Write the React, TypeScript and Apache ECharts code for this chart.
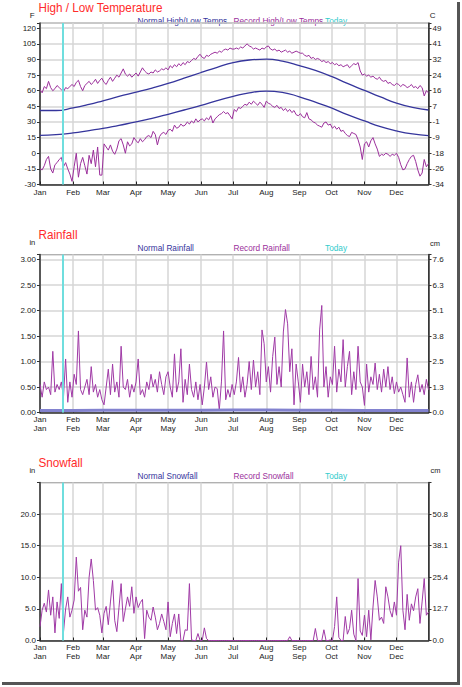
import { useEffect, useRef } from 'react';
import * as echarts from 'echarts';

// Calendar
const monthNames = ['Jan', 'Feb', 'Mar', 'Apr', 'May', 'Jun', 'Jul', 'Aug', 'Sep', 'Oct', 'Nov', 'Dec'];
const monthLengths = [31, 28, 31, 30, 31, 30, 31, 31, 30, 31, 30, 31];
const todayIndex = 21;

// Tick labels
const tempTicksF = ['-30', '-15', '0', '15', '30', '45', '60', '75', '90', '105', '120'];
const tempTicksC = ['-34', '-26', '-18', '-9', '-1', '7', '16', '24', '32', '41', '49'];
const rainTicksIn = ['0.00', '0.50', '1.00', '1.50', '2.00', '2.50', '3.00'];
const rainTicksCm = ['0.0', '1.3', '2.5', '3.8', '5.1', '6.3', '7.6'];
const snowTicksIn = ['0.0', '5.0', '10.0', '15.0', '20.0'];
const snowTicksCm = ['0.0', '12.7', '25.4', '38.1', '50.8'];

// Normal temperatures (°F) on selected days of the year
const normalDays = [0, 15, 31, 46, 59, 74, 90, 105, 120, 135, 151, 166, 181, 196, 212, 227, 243, 258, 273, 288, 304, 319, 334, 349, 364];
const normalHigh = [41, 41, 43.5, 46.8, 50.3, 54.5, 58.6, 62.6, 67, 72, 77.5, 82.5, 87, 89.5, 90.3, 88.5, 84.2, 79.5, 73.7, 67, 60.3, 54, 48.1, 44, 41.5];
const normalLow = [17.2, 17.8, 19.5, 21.8, 23.8, 26.8, 30, 33.5, 37.4, 41.5, 46, 50.5, 54.5, 58, 59.7, 58.5, 54.2, 49, 43.5, 37, 31, 25.5, 21.4, 18.5, 17];

// Records are listed every RECORD_STEP days starting Jan 1
const RECORD_STEP = 2;
const recordHigh = [
  61, 58, 64, 62, 69, 63, 60, 62, 65, 63, 61,
  59, 63, 62, 64, 66, 64, 68, 70, 64, 60,
  65, 67, 69, 66, 68, 71, 67, 70, 72, 68,
  66, 70, 73, 69, 72, 75, 73, 77, 81, 76,
  74, 76, 73, 75, 77, 74, 78, 82, 79, 77,
  76, 78, 77, 80, 78, 79, 81, 80, 82, 80,
  84, 82, 85, 83, 86, 84, 87, 85, 88, 87,
  89, 91, 90, 93, 95, 92, 91, 94, 93, 95,
  96, 97, 96, 98, 97, 99, 100, 99, 101, 100,
  100, 101, 100, 102, 101, 103, 105, 103, 102, 100,
  101, 100, 99, 101, 100, 102, 103, 100, 99, 100,
  98, 99, 97, 98, 99, 97, 98, 96, 97, 98,
  97, 96, 96, 94, 93, 94, 91, 92, 90, 91,
  90, 88, 89, 87, 88, 86, 87, 85, 86, 84,
  85, 83, 84, 85, 82, 84, 86, 85, 87, 79,
  75, 76, 74, 75, 73, 74, 72, 71, 73, 70,
  69, 70, 67, 68, 66, 65, 67, 66, 64, 66,
  65, 63, 64, 66, 63, 64, 62, 65, 63, 55,
  60, 58,
];
const recordLow = [
  -15, -16, -12, -6, -3, -15, -19, -11, -9, -6, -4,
  -13, -9, -15, -20, -27, -13, 0, -23, -10, -4,
  -12, -20, -2, -10, 3, -13, 6, -21, -21, 9,
  6, 3, 8, 2, -1, 4, 12, 14, 8, 0,
  11, 7, 9, 15, 12, 10, 14, 11, 13, 16,
  17, 15, 21, 18, 8, 16, 19, 20, 18, 22,
  23, 21, 27, 24, 25, 28, 26, 27, 30, 28,
  31, 29, 33, 30, 32, 33, 31, 34, 32, 36,
  29, 33, 35, 37, 38, 40, 38, 39, 36, 33,
  42, 40, 44, 43, 45, 47, 46, 49, 47, 50,
  48, 46, 49, 47, 44, 50, 48, 47, 45, 44,
  46, 43, 44, 41, 43, 40, 42, 39, 41, 37,
  36, 38, 35, 34, 39, 33, 32, 30, 29, 27,
  26, 25, 29, 30, 27, 28, 24, 26, 23, 25,
  21, 22, 19, 17, 16, 20, 19, 18, 13, 6,
  -6, 9, 11, 6, 12, 15, 9, 4, -3, -1,
  -2, 0, -1, -3, -1, -2, 0, -4, -11, -16,
  -15, -10, -6, -3, -2, -8, -16, -22, -19, -6,
  -13, -10,
];

// Rainfall (in)
const normalRainDays = [0, 31, 59, 90, 120, 151, 181, 212, 243, 273, 304, 334, 364];
const normalRain = [0.04, 0.04, 0.045, 0.045, 0.045, 0.045, 0.05, 0.05, 0.045, 0.045, 0.04, 0.04, 0.04];
const recordRain = [
  0.55, 0.3, 0.6, 0.45, 0.5, 0.35, 1.2, 0.4, 0.55, 0.45, 0.6,
  0.3, 1.05, 0.2, 0.6, 0.3, 0.75, 0.55, 1.6, 0.45, 0.35,
  0.5, 0.65, 0.35, 0.9, 0.4, 0.55, 0.3, 0.45, 0.25, 0.15,
  0.5, 0.85, 0.35, 0.95, 0.4, 0.6, 0.3, 1.3, 0.5, 0.45,
  0.65, 0.3, 0.55, 0.4, 0.6, 1.05, 0.35, 0.45, 0.3, 0.6,
  0.45, 0.75, 0.5, 0.65, 0.4, 0.8, 0.55, 0.35, 0.7, 0.8,
  0.5, 0.3, 1.15, 0.4, 0.6, 1.25, 0.2, 0.65, 0.35, 0.95,
  0.45, 0.3, 0.6, 0.25, 0.55, 0.15, 0.5, 0.99, 0.45, 0.7,
  0.3, 0.5, 0.47, 0.05, 0.6, 1.6, 0.25, 0.45, 0.3, 0.55,
  0.35, 0.6, 1.08, 0.4, 0.7, 0.3, 0.55, 1.0, 0.45, 1.03,
  0.5, 0.8, 0.35, 1.62, 1.35, 0.6, 0.9, 0.4, 1.1, 1.48,
  0.55, 0.9, 0.5, 1.58, 2.02, 1.74, 0.8, 1.25, 0.15, 0.95,
  0.6, 0.2, 0.95, 0.5, 0.8, 0.35, 1.1, 0.45, 0.7, 0.3,
  1.62, 2.1, 0.5, 0.9, 0.3, 0.7, 0.55, 1.3, 0.4, 0.85,
  0.6, 1.43, 0.5, 0.9, 1.2, 0.35, 0.8, 0.45, 1.3, 0.6,
  0.5, 0.14, 0.95, 0.4, 0.7, 0.55, 0.97, 0.45, 0.75, 0.4,
  0.85, 0.5, 0.9, 0.45, 0.7, 0.37, 0.6, 0.4, 0.5, 0.35,
  0.2, 1.07, 0.3, 0.6, 0.2, 0.55, 0.74, 0.4, 0.55, 0.35,
  0.65, 0.45,
];

// Snowfall (in)
const recordSnow = [
  2.2, 4.8, 5.9, 4.5, 8.0, 4.0, 6.9, 1.2, 6.1, 3.5, 9.0,
  1.3, 5.0, 6.9, 3.7, 4.8, 6.4, 13.2, 7.8, 8.4, 1.7,
  4.8, 3.7, 10.0, 12.9, 9.5, 4.8, 5.2, 4.0, 1.2, 4.3,
  5.4, 2.5, 6.1, 9.5, 3.2, 1.4, 5.2, 9.0, 3.0, 5.0,
  6.9, 5.4, 8.5, 4.3, 6.9, 5.2, 6.0, 6.5, 0.3, 4.8,
  3.7, 3.2, 5.3, 3.7, 1.7, 2.7, 4.2, 3.0, 1.7, 6.1,
  0.6, 2.7, 4.2, 1.1, 4.2, 0, 0, 1.7, 1.6, 9.0,
  0.1, 0, 0, 1.1, 0, 0, 2.0, 0.3, 0, 0,
  0, 0, 0, 0, 0, 0, 0, 0, 0, 0,
  0, 0, 0, 0, 0, 0, 0, 0, 0, 0,
  0, 0, 0, 0, 0, 0, 0, 0, 0, 0,
  0, 0, 0, 0, 0, 0, 0.6, 0, 0, 0,
  0, 0, 0, 0, 0, 0, 0, 0, 1.9, 0,
  0, 0, 1.7, 0, 0, 0.1, 0, 2.2, 6.9, 0.5,
  0, 0, 3.8, 1.0, 1.9, 4.8, 1.0, 0, 9.8, 1.5,
  0.8, 4.0, 0.6, 4.8, 0.1, 5.3, 9.5, 6.9, 3.2, 3.7,
  2.7, 8.5, 6.9, 4.7, 3.7, 6.1, 4.0, 12.4, 15.0, 4.8,
  1.7, 7.3, 3.2, 5.8, 4.7, 6.9, 8.2, 2.7, 6.1, 9.8,
  4.0, 4.5,
];

const FONT = "'Liberation Sans', Arial, Helvetica, sans-serif";
const NORMAL_COLOR = '#35359c';
const RECORD_COLOR = '#9b2f9b';
const TODAY_COLOR = '#33cccc';
const TITLE_COLOR = '#ff2b2b';
const GRID_LINE = '#d6d6d6';
const AXIS_DARK = '#333';

const dayNames: string[] = [];
const monthStarts = new Set<number>();
monthNames.forEach((m, i) => {
  monthStarts.add(dayNames.length);
  for (let d = 1; d <= monthLengths[i]; d++) dayNames.push(`${m} ${d}`);
});

function tickLabel(list: string[], min: number, step: number) {
  return (v: number) => {
    const k = Math.round((v - min) / step);
    if (Math.abs(min + k * step - v) > 1e-6 || k < 0 || k >= list.length) return '';
    return list[k];
  };
}

const recordPoints = (vals: number[]) => vals.map((v, i) => [i * RECORD_STEP, v]);
const pairPoints = (days: number[], vals: number[]) => days.map((d, i) => [d, vals[i]]);

const isMonthStart = (index: number) => monthStarts.has(index);

function buildOption() {
  const panels = [
    { top: 23, height: 161.5, min: -30, max: 125, step: 15, left: tempTicksF, right: tempTicksC, doubled: false, labelMargin: 4 },
    { top: 254.5, height: 158, min: 0, max: 3.1, step: 0.5, left: rainTicksIn, right: rainTicksCm, doubled: true, labelMargin: 3 },
    { top: 482.5, height: 158, min: 0, max: 25, step: 5, left: snowTicksIn, right: snowTicksCm, doubled: true, labelMargin: 3 },
  ];

  const grid = panels.map((p) => ({
    left: 40,
    width: 388.5,
    top: p.top,
    height: p.height,
    show: true,
    borderColor: '#444',
    borderWidth: 1,
    backgroundColor: '#fff',
    containLabel: false,
  }));

  const xAxis = panels.map((p, i) => ({
    type: 'category',
    gridIndex: i,
    data: dayNames,
    boundaryGap: false,
    axisLine: { show: true, onZero: false, lineStyle: { color: AXIS_DARK, width: 1.5 } },
    axisTick: { show: true, inside: true, length: 3, interval: isMonthStart, lineStyle: { color: '#222', width: 1 } },
    axisLabel: {
      interval: isMonthStart,
      fontSize: 8,
      fontFamily: FONT,
      color: '#222',
      margin: p.labelMargin,
      lineHeight: 8.5,
      formatter: (value: string) => {
        const m = value.split(' ')[0];
        return p.doubled ? `${m}\n${m}` : m;
      },
    },
    splitLine: { show: true, interval: isMonthStart, lineStyle: { color: GRID_LINE, width: 1.5 } },
  }));

  const yAxis: any[] = [];
  panels.forEach((p, i) => {
    const common = {
      type: 'value',
      gridIndex: i,
      min: p.min,
      max: p.max,
      interval: p.step,
      axisLine: { show: true, onZero: false, lineStyle: { color: AXIS_DARK, width: 1.5 } },
      axisTick: { show: true, inside: false, length: 3, lineStyle: { color: AXIS_DARK } },
    };
    yAxis.push({
      ...common,
      position: 'left',
      axisLabel: { fontSize: 8, fontFamily: FONT, color: '#222', margin: 4, formatter: tickLabel(p.left, p.min, p.step) },
      splitLine: { show: true, lineStyle: { color: GRID_LINE, width: 1.5 } },
    });
    yAxis.push({
      ...common,
      position: 'right',
      axisLabel: { fontSize: 8, fontFamily: FONT, color: '#222', margin: 4, formatter: tickLabel(p.right, p.min, p.step) },
      splitLine: { show: false },
    });
  });

  const todayMark = {
    silent: true,
    symbol: ['none', 'none'],
    label: { show: false },
    lineStyle: { color: '#6fdede', width: 2, type: 'solid' },
    emphasis: { disabled: true },
    data: [{ xAxis: todayIndex }],
  };

  const line = (xi: number, yi: number, data: number[][], color: string, width: number, smooth: boolean, extra: any = {}) => ({
    type: 'line',
    xAxisIndex: xi,
    yAxisIndex: yi,
    data,
    smooth,
    showSymbol: false,
    symbol: 'none',
    lineStyle: { color, width },
    itemStyle: { color },
    emphasis: { disabled: true },
    ...extra,
  });

  const series = [
    line(0, 0, pairPoints(normalDays, normalHigh), NORMAL_COLOR, 1.3, true),
    line(0, 0, pairPoints(normalDays, normalLow), NORMAL_COLOR, 1.3, true),
    line(0, 0, recordPoints(recordHigh), RECORD_COLOR, 1, false),
    line(0, 0, recordPoints(recordLow), RECORD_COLOR, 1, false, { markLine: todayMark }),
    line(1, 2, recordPoints(recordRain), '#a03aa6', 1, false, { markLine: todayMark }),
    line(1, 2, pairPoints(normalRainDays, normalRain), '#8282cf', 3, false),
    line(2, 4, recordPoints(recordSnow), '#a03aa6', 1, false, { markLine: todayMark }),
  ];

  const txt = (text: string, x: number, y: number, fill: string, size: number, scaleX = 1, align = 'left') => ({
    type: 'text',
    x,
    y,
    scaleX,
    silent: true,
    style: {
      text,
      fill,
      font: `${size}px ${FONT}`,
      align,
      verticalAlign: 'middle',
      textAlign: align,
      textVerticalAlign: 'middle',
    },
  });

  const legendRow = (y: number, normal: string, record: string) => [
    txt(normal, 137.5, y, NORMAL_COLOR, 9.5, 0.87),
    txt(record, 233.5, y, RECORD_COLOR, 9.5, 0.87),
    txt('Today', 325, y, TODAY_COLOR, 9.5, 0.87),
  ];

  const graphic = [
    txt('High / Low Temperature', 38.5, 7.3, TITLE_COLOR, 13, 0.9),
    txt('Rainfall', 38.5, 234.3, TITLE_COLOR, 13, 0.9),
    txt('Snowfall', 38.5, 462.8, TITLE_COLOR, 13, 0.9),
    ...legendRow(20.7, 'Normal High/Low Temps', 'Record High/Low Temps'),
    ...legendRow(248, 'Normal Rainfall', 'Record Rainfall'),
    ...legendRow(475.3, 'Normal Snowfall', 'Record Snowfall'),
    txt('F', 32.3, 15, '#222', 8, 1, 'center'),
    txt('C', 432.7, 15, '#222', 8, 1, 'center'),
    txt('in', 32.3, 242.7, '#222', 7.5, 1, 'center'),
    txt('cm', 435, 243.3, '#222', 7.5, 1, 'center'),
    txt('in', 32.3, 470.7, '#222', 7.5, 1, 'center'),
    txt('cm', 435.5, 470.7, '#222', 7.5, 1, 'center'),
    { type: 'rect', silent: true, shape: { x: 457, y: 2, width: 3, height: 683 }, style: { fill: '#555' } },
    { type: 'rect', silent: true, shape: { x: 2, y: 682, width: 458, height: 3 }, style: { fill: '#555' } },
  ];

  return {
    animation: false,
    backgroundColor: '#fff',
    grid,
    xAxis,
    yAxis,
    series,
    graphic,
  };
}

export default function App() {
  const ref = useRef<HTMLDivElement>(null);
  useEffect(() => {
    if (!ref.current) return;
    const chart = echarts.init(ref.current, undefined, { renderer: 'svg' });
    chart.setOption(buildOption() as any);
    return () => chart.dispose();
  }, []);
  return <div ref={ref} style={{ position: 'absolute', left: 0, top: 0, width: 462, height: 687 }} />;
}
